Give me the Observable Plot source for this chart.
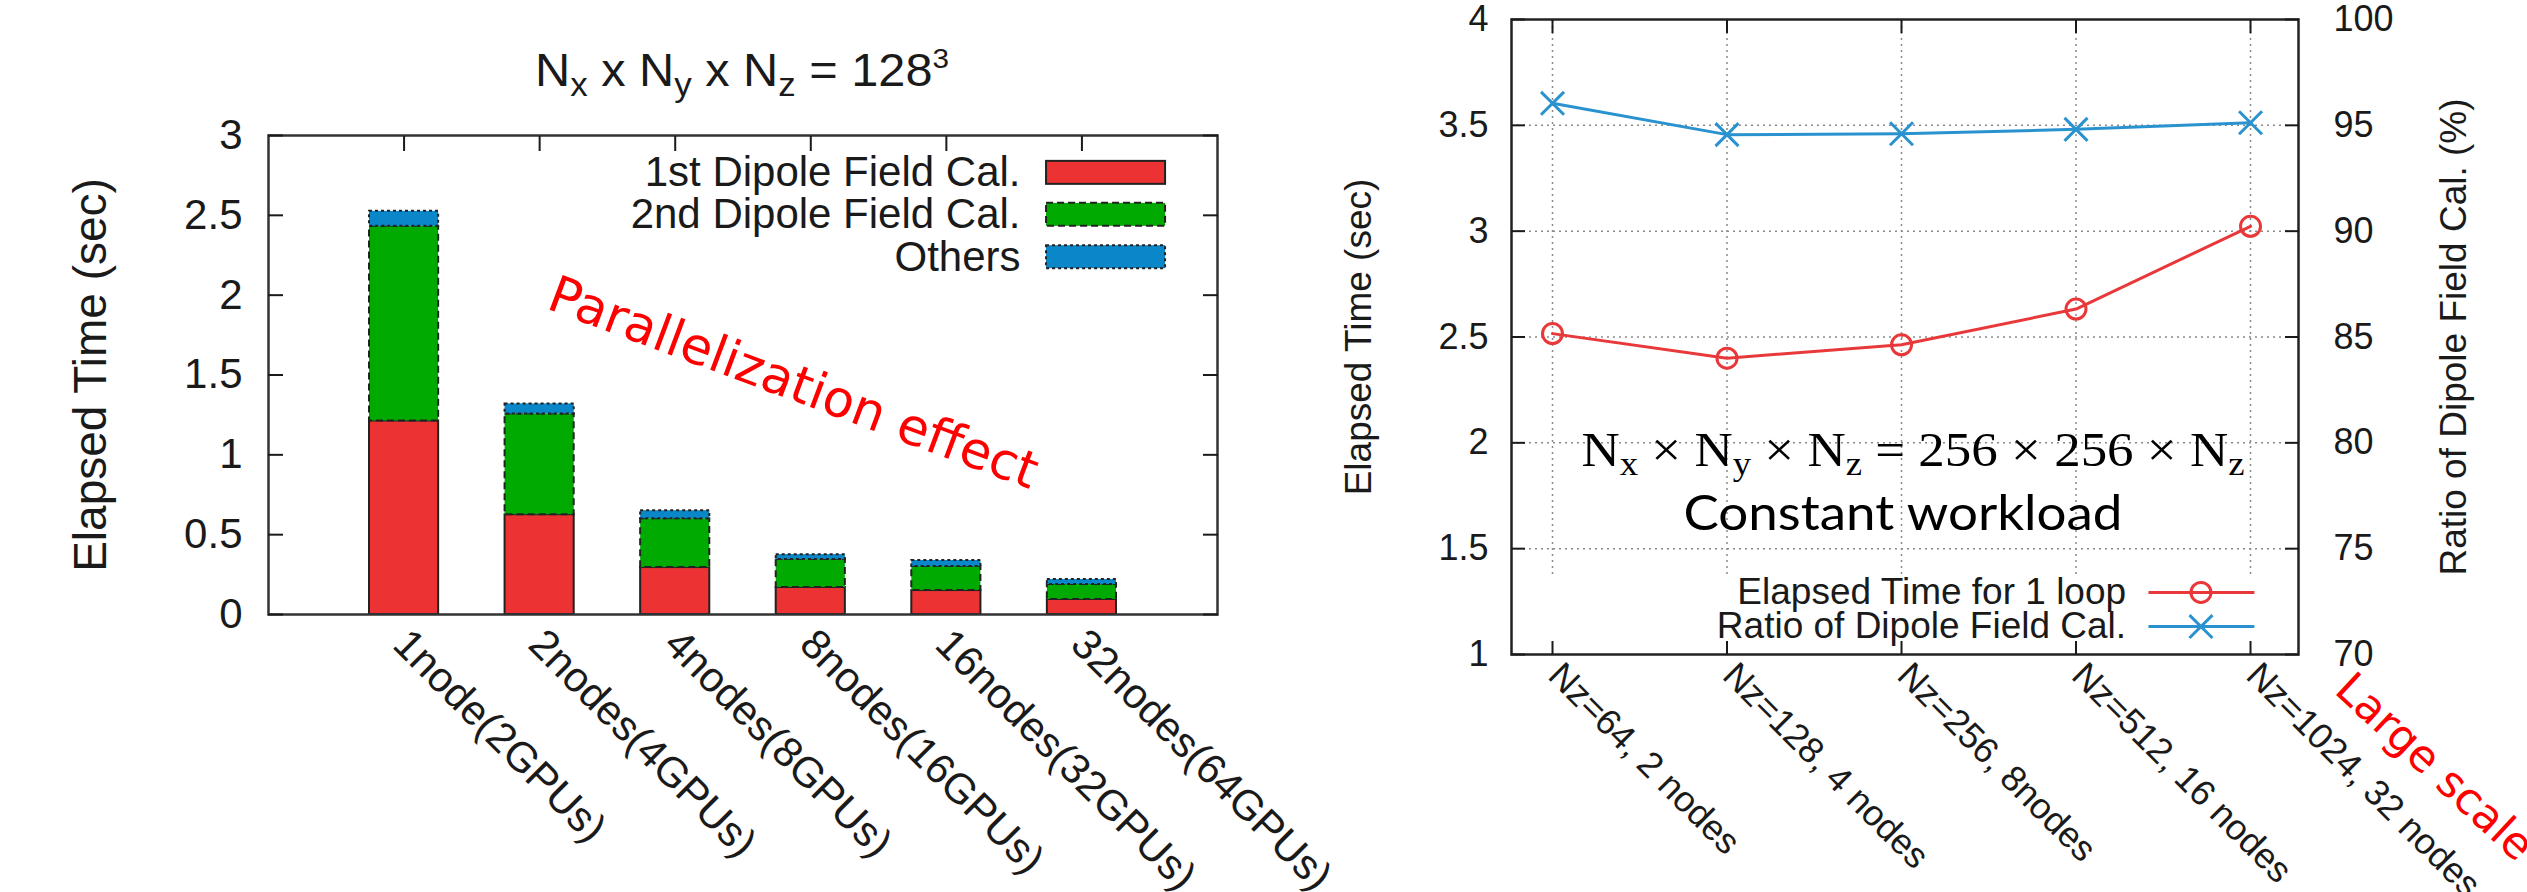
<!DOCTYPE html>
<html>
<head>
<meta charset="utf-8">
<script src="https://cdn.jsdelivr.net/npm/d3@7"></script>
<script src="https://cdn.jsdelivr.net/npm/@observablehq/plot@0.6"></script>
<style>
html, body { margin: 0; padding: 0; background: #fff; }
#root { position: relative; width: 2527px; height: 892px; overflow: hidden; background: #fff; }
#left, #right { position: absolute; top: 0; }
#left { left: 0; }
#right { left: 1300px; }
#overlay { position: absolute; left: 0; top: 0; pointer-events: none; }
</style>
</head>
<body>
<div id="root">
  <div id="left"></div>
  <div id="right"></div>
  <svg id="overlay" width="2527" height="892">
    <text x="742" y="86" text-anchor="middle" font-family="Liberation Sans, Arial, sans-serif" font-size="46" fill="#1a1a1a" textLength="414" lengthAdjust="spacingAndGlyphs">N<tspan style="font-size:33px;baseline-shift:-10px">x</tspan> x N<tspan style="font-size:33px;baseline-shift:-10px">y</tspan> x N<tspan style="font-size:33px;baseline-shift:-10px">z</tspan> = 128<tspan style="font-size:28px;baseline-shift:18px">3</tspan></text>
    <text transform="translate(545,308) rotate(20.5)" font-family="DejaVu Sans, sans-serif" font-size="51" fill="#ff0000">Parallelization effect</text>
    <text x="1913" y="466" text-anchor="middle" font-family="Liberation Serif, serif" font-size="49" fill="#000" textLength="663" lengthAdjust="spacingAndGlyphs">N<tspan style="font-size:34px;baseline-shift:-9px">x</tspan> × N<tspan style="font-size:34px;baseline-shift:-9px">y</tspan> × N<tspan style="font-size:34px;baseline-shift:-9px">z</tspan> = 256 × 256 × N<tspan style="font-size:34px;baseline-shift:-9px">z</tspan></text>
    <text x="1903" y="530" text-anchor="middle" font-family="Lato, sans-serif" font-size="48" fill="#000" textLength="439" lengthAdjust="spacingAndGlyphs">Constant workload</text>
    <text transform="translate(2333,692) rotate(43)" font-family="DejaVu Sans, sans-serif" font-size="44" fill="#ff0000">Large scale</text>
  </svg>
</div>
<script>
// ---------- Left chart data ----------
const nodeLabels = ["1node(2GPUs)", "2nodes(4GPUs)", "4nodes(8GPUs)", "8nodes(16GPUs)", "16nodes(32GPUs)", "32nodes(64GPUs)"];
const firstDipole = [1.212, 0.625, 0.294, 0.169, 0.150, 0.094];
const secondDipole = [1.219, 0.631, 0.306, 0.175, 0.150, 0.094];
const others = [0.094, 0.063, 0.050, 0.031, 0.038, 0.031];
const seriesNames = ["1st Dipole Field Cal.", "2nd Dipole Field Cal.", "Others"];
const leftYTicks = [0, 0.5, 1, 1.5, 2, 2.5, 3];

// ---------- Right chart data ----------
const caseLabels = ["Nz=64, 2 nodes", "Nz=128, 4 nodes", "Nz=256, 8nodes", "Nz=512, 16 nodes", "Nz=1024, 32 nodes"];
const elapsedTime = [2.516, 2.400, 2.463, 2.632, 3.023];
const dipoleRatio = [96.04, 94.56, 94.60, 94.81, 95.12];
const rightYTicks = [1, 1.5, 2, 2.5, 3, 3.5, 4];
const ratioTicks = [70, 75, 80, 85, 90, 95, 100];
const legendLabels = ["Elapsed Time for 1 loop", "Ratio of Dipole Field Cal."];

// ---------- styles ----------
const seriesColors = ["#ec3232", "#00aa00", "#0a87c9"];
const seriesDash = [null, "7,4", "3,3"];
const redLine = "#e8383a";
const blueLine = "#2a93cf";
const gridColor = "#8a8a8a";
const inkColor = "#1a1a1a";

// stack the bar segments
const barRows = [];
nodeLabels.forEach((n, i) => {
  let base = 0;
  [firstDipole, secondDipole, others].forEach((arr, k) => {
    barRows.push({node: n, idx: i + 1, series: seriesNames[k], k, y1: base, y2: base + arr[i]});
    base += arr[i];
  });
});

const legendLeftY = [2.766, 2.503, 2.238];

const left = Plot.plot({
  width: 1300, height: 892,
  marginLeft: 268, marginRight: 83, marginTop: 135, marginBottom: 278,
  x: {domain: [0, 7], axis: null},
  y: {domain: [0, 3], axis: null},
  style: {fontFamily: "Liberation Sans, Arial, sans-serif", fontSize: "42px", color: inkColor, background: "transparent", overflow: "visible"},
  marks: [
    ...seriesNames.map((s, k) => Plot.rect(barRows.filter(d => d.k === k), {
      x1: d => d.idx - 0.255, x2: d => d.idx + 0.255, y1: "y1", y2: "y2",
      fill: seriesColors[k], stroke: "#222", strokeWidth: 2, strokeDasharray: seriesDash[k]
    })),
    Plot.frame({stroke: "#333", strokeWidth: 2.5}),
    Plot.axisY(leftYTicks, {anchor: "left", tickSize: 15, dx: 15, tickFormat: () => "", strokeWidth: 2}),
    Plot.axisY(leftYTicks, {anchor: "right", tickSize: 15, dx: -15, tickFormat: () => "", strokeWidth: 2}),
    Plot.axisX(d3.range(1, 7), {anchor: "top", tickSize: 15, dy: 15, tickFormat: () => "", strokeWidth: 2}),
    Plot.axisY(leftYTicks, {anchor: "left", tickSize: 0, tickPadding: 26, fontSize: 42, tickFormat: d => String(d)}),
    Plot.text(nodeLabels, {x: (d, i) => i + 1, frameAnchor: "bottom", rotate: 45, textAnchor: "start", lineAnchor: "top", dx: 8, dy: 11, fontSize: 42}),
    Plot.text(["Elapsed Time (sec)"], {frameAnchor: "left", rotate: -90, textAnchor: "middle", dx: -177, fontSize: 46}),
    // legend
    Plot.text(seriesNames, {x: 5.547, y: (d, i) => legendLeftY[i], textAnchor: "end", fontSize: 42}),
    ...seriesNames.map((s, k) => Plot.rect([s], {
      x1: 5.739, x2: 6.617, y1: legendLeftY[k] - 0.072, y2: legendLeftY[k] + 0.072,
      fill: seriesColors[k], stroke: "#222", strokeWidth: 2, strokeDasharray: seriesDash[k]
    }))
  ]
});
document.getElementById("left").appendChild(left);

const toLeftAxis = r => 1 + (r - 70) / 10;
const legendRightY = [1.293, 1.132];

const right = Plot.plot({
  width: 1227, height: 892,
  marginLeft: 211, marginRight: 229, marginTop: 19, marginBottom: 238,
  x: {domain: [-0.235, 4.275], axis: null},
  y: {domain: [1, 4], axis: null},
  style: {fontFamily: "Liberation Sans, Arial, sans-serif", fontSize: "36px", color: inkColor, background: "transparent", overflow: "visible"},
  marks: [
    Plot.ruleY([1.5, 2, 2.5, 3, 3.5], {stroke: gridColor, strokeDasharray: "2,4", strokeWidth: 1.5}),
    Plot.ruleX(d3.range(caseLabels.length), {y1: 1.378, y2: 4, stroke: gridColor, strokeDasharray: "2,4", strokeWidth: 1.5}),
    Plot.frame({stroke: "#222", strokeWidth: 2.5}),
    Plot.axisY(rightYTicks, {anchor: "left", tickSize: 14, dx: 14, tickFormat: () => "", strokeWidth: 2}),
    Plot.axisY(rightYTicks, {anchor: "right", tickSize: 14, dx: -14, tickFormat: () => "", strokeWidth: 2}),
    Plot.axisX(d3.range(caseLabels.length), {anchor: "top", tickSize: 13, dy: 13, tickFormat: () => "", strokeWidth: 2}),
    Plot.axisX(d3.range(caseLabels.length), {anchor: "bottom", tickSize: 13, dy: -13, tickFormat: () => "", strokeWidth: 2}),
    Plot.axisY(rightYTicks, {anchor: "left", tickSize: 0, tickPadding: 23, fontSize: 36, tickFormat: d => String(d)}),
    Plot.axisY(rightYTicks, {anchor: "right", tickSize: 0, tickPadding: 35, fontSize: 36, tickFormat: (d, i) => String(ratioTicks[i])}),
    Plot.line(elapsedTime, {x: (d, i) => i, y: d => d, stroke: redLine, strokeWidth: 3}),
    Plot.dot(elapsedTime, {x: (d, i) => i, y: d => d, r: 10, stroke: redLine, strokeWidth: 3, fill: "none"}),
    Plot.line(dipoleRatio, {x: (d, i) => i, y: d => toLeftAxis(d), stroke: blueLine, strokeWidth: 3}),
    Plot.dot(dipoleRatio, {x: (d, i) => i, y: d => toLeftAxis(d), symbol: "times", r: 10.5, stroke: blueLine, strokeWidth: 3}),
    Plot.text(caseLabels, {x: (d, i) => i, frameAnchor: "bottom", rotate: 45, textAnchor: "start", lineAnchor: "top", dx: 12, dy: 5, fontSize: 36}),
    Plot.text(["Elapsed Time (sec)"], {frameAnchor: "left", rotate: -90, textAnchor: "middle", dx: -152, fontSize: 37}),
    Plot.text(["Ratio of Dipole Field Cal. (%)"], {frameAnchor: "right", rotate: -90, textAnchor: "middle", dx: 156, fontSize: 37}),
    // legend
    Plot.text(legendLabels, {x: 3.287, y: (d, i) => legendRightY[i], textAnchor: "end", fontSize: 37}),
    Plot.ruleY([legendRightY[0]], {x1: 3.418, x2: 4.025, stroke: redLine, strokeWidth: 3}),
    Plot.ruleY([legendRightY[1]], {x1: 3.418, x2: 4.025, stroke: blueLine, strokeWidth: 3}),
    Plot.dot([legendRightY[0]], {x: 3.716, y: d => d, r: 10, stroke: redLine, strokeWidth: 3, fill: "none"}),
    Plot.dot([legendRightY[1]], {x: 3.716, y: d => d, symbol: "times", r: 10.5, stroke: blueLine, strokeWidth: 3})
  ]
});
document.getElementById("right").appendChild(right);
</script>
</body>
</html>
